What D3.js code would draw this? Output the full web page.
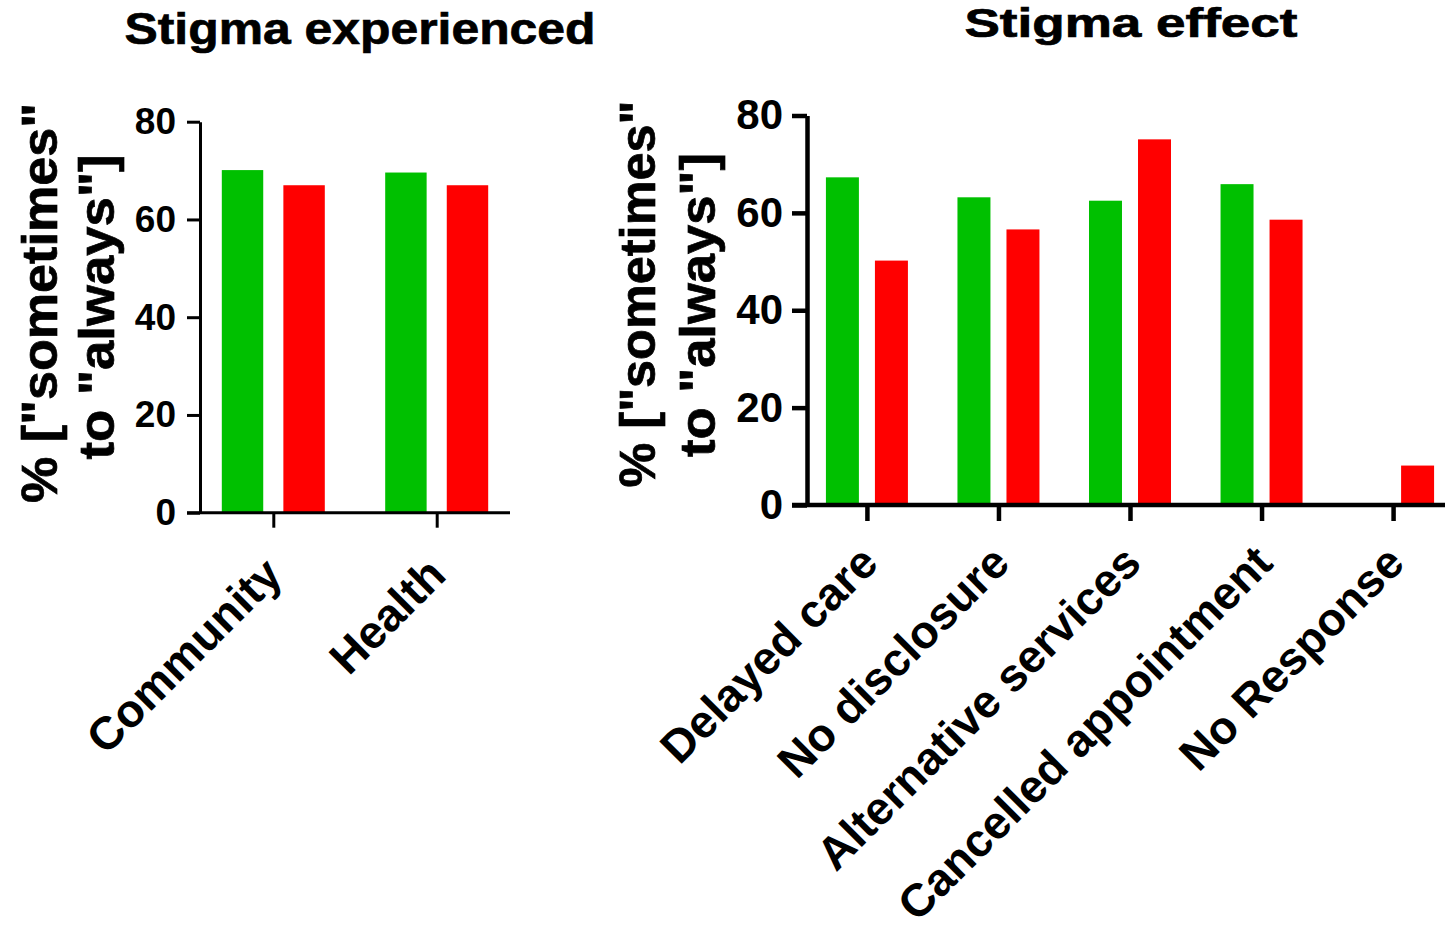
<!DOCTYPE html>
<html>
<head>
<meta charset="utf-8">
<script src="https://cdn.jsdelivr.net/npm/d3@7"></script>
<style>
  body { margin: 0; background: #fff; }
  svg text { font-family: "Liberation Sans", Arial, sans-serif; font-weight: bold; fill: #000; }
  svg text.heavy { stroke: #000; stroke-width: 0.7px; }
</style>
</head>
<body>
<div id="chart"></div>
<script>
// data
var series = ["green", "red"];
var seriesColors = ["#00c000", "#ff0000"];

var experiencedCategories = ["Community", "Health"];
var experiencedGreen = [70.1, 69.6];
var experiencedRed = [67.0, 67.0];

var effectCategories = ["Delayed care", "No disclosure", "Alternative services", "Cancelled appointment", "No Response"];
var effectGreen = [67.3, 63.2, 62.5, 65.9, 0];
var effectRed = [50.2, 56.6, 75.1, 58.6, 8.1];

var yTicks = [0, 20, 40, 60, 80];
var yLabelLines = ['% ["sometimes"', 'to "always"]'];

var svg = d3.select("#chart").append("svg")
    .attr("width", 1445)
    .attr("height", 936);

function drawPanel(opts) {
  var g = svg.append("g");

  var x = d3.scalePoint()
      .domain(opts.categories)
      .range([opts.left, opts.right])
      .padding(opts.pad);

  var x1 = d3.scaleBand()
      .domain(series)
      .range([-opts.groupHalf, opts.groupHalf])
      .paddingInner(0.327);

  var y = d3.scaleLinear()
      .domain([0, 80])
      .range([opts.bottom, opts.top]);

  var rows = opts.categories.map(function(c, i) {
    return { cat: c, values: [opts.green[i], opts.red[i]] };
  });

  // bars
  var grp = g.selectAll(".grp")
      .data(rows)
    .enter().append("g")
      .attr("transform", function(d) { return "translate(" + x(d.cat) + ",0)"; });

  grp.selectAll("rect")
      .data(function(d) { return d.values.map(function(v, k) { return { s: series[k], v: v }; }); })
    .enter().append("rect")
      .attr("x", function(d) { return x1(d.s); })
      .attr("width", x1.bandwidth())
      .attr("y", function(d) { return y(d.v); })
      .attr("height", function(d) { return y(0) - y(d.v); })
      .attr("fill", function(d, k) { return seriesColors[k]; });

  // y axis
  var yAxis = g.append("g")
      .attr("transform", "translate(" + opts.left + ",0)")
      .call(d3.axisLeft(y).tickValues(yTicks).tickSize(opts.yTick).tickSizeOuter(0).tickPadding(opts.yPad));
  yAxis.selectAll("path, line").attr("stroke", "#000").attr("stroke-width", opts.stroke);
  yAxis.selectAll("text").style("font-size", opts.tickFont + "px");

  // x axis
  var xAxis = g.append("g")
      .attr("transform", "translate(0," + opts.bottom + ")")
      .call(d3.axisBottom(x).tickSize(opts.xTick).tickSizeOuter(0).tickFormat(""));
  xAxis.selectAll("path, line").attr("stroke", "#000").attr("stroke-width", opts.stroke);
  xAxis.select(".domain").attr("d", "M" + (opts.left - opts.yTick) + ",0H" + opts.right);

  // rotated category labels
  g.selectAll(".cat")
      .data(opts.categories)
    .enter().append("text")
      .attr("transform", function(d) { return "translate(" + (x(d) + opts.labDx) + "," + opts.labY + ") rotate(-45)"; })
      .attr("text-anchor", "end")
      .attr("dy", "0.35em")
      .style("font-size", opts.labFont + "px")
      .text(function(d) { return d; });

  // y title, two lines
  yLabelLines.forEach(function(t, i) {
    g.append("text")
        .attr("class", "heavy")
        .attr("transform", "translate(" + opts.yLab[i].x + "," + opts.yLab[i].y + ") rotate(-90)")
        .attr("text-anchor", "middle")
        .attr("textLength", opts.yLab[i].len)
        .attr("lengthAdjust", "spacingAndGlyphs")
        .style("font-size", "50px")
        .text(t);
  });

  // title
  g.append("text")
      .attr("class", "heavy")
      .attr("x", opts.title.x)
      .attr("y", opts.title.y)
      .attr("text-anchor", "middle")
      .attr("textLength", opts.title.len)
      .attr("lengthAdjust", "spacingAndGlyphs")
      .style("font-size", opts.title.size + "px")
      .text(opts.title.text);
}

drawPanel({
  categories: experiencedCategories, green: experiencedGreen, red: experiencedRed,
  left: 200, right: 510, pad: 0.4486, top: 121.7, bottom: 512.7, groupHalf: 51.5,
  stroke: 3, yTick: 13, yPad: 11, xTick: 15, tickFont: 37,
  labFont: 46, labDx: 0, labY: 566,
  yLab: [{ x: 57, y: 303, len: 400 }, { x: 114, y: 307, len: 305 }],
  title: { x: 360, y: 44, len: 471, size: 44, text: "Stigma experienced" }
});

drawPanel({
  categories: effectCategories, green: effectGreen, red: effectRed,
  left: 807, right: 1453, pad: 0.4555, top: 115.5, bottom: 505, groupHalf: 41,
  stroke: 4.5, yTick: 15, yPad: 9, xTick: 16, tickFont: 42,
  labFont: 46, labDx: 2, labY: 554,
  yLab: [{ x: 655, y: 294, len: 387 }, { x: 715, y: 305, len: 304 }],
  title: { x: 1131, y: 37, len: 333, size: 40, text: "Stigma effect" }
});
</script>
</body>
</html>
